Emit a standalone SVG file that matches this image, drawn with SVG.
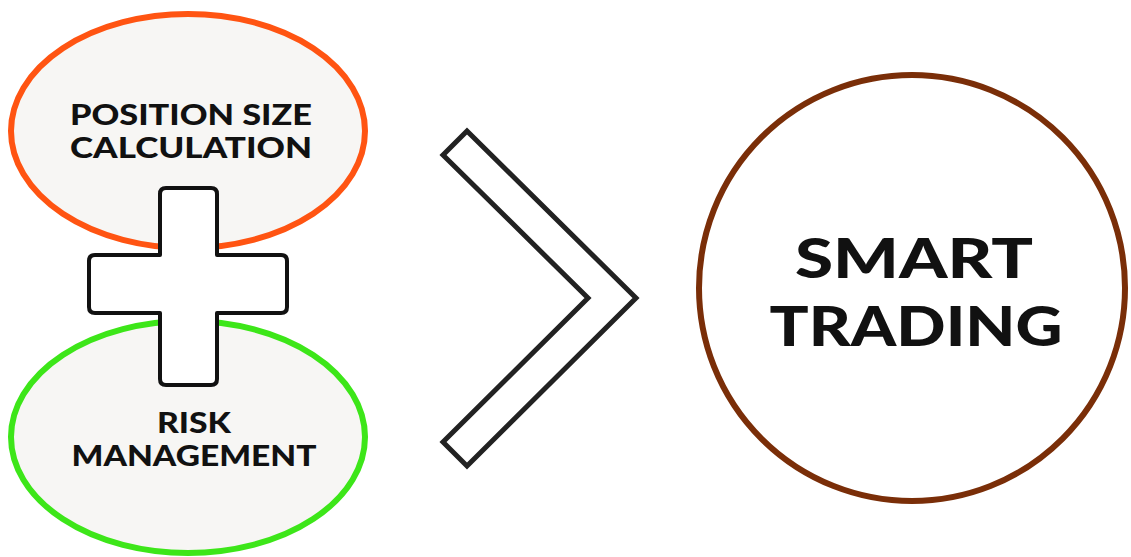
<svg xmlns="http://www.w3.org/2000/svg" width="1131" height="557" viewBox="0 0 1131 557">
<style>
.lbl{font-family:"Lato","Liberation Sans",sans-serif;font-weight:900;fill:#111;text-anchor:middle}
.small{font-size:27.5px}
.big{font-size:56px}
.oval{fill:#f7f6f4;stroke-width:6}
</style>
<rect width="1131" height="557" fill="#ffffff"/>
<g id="position-size">
<ellipse class="oval" cx="188" cy="131" rx="177" ry="117" stroke="#ff5412"/>
<text class="lbl small" x="191" y="125" textLength="242" lengthAdjust="spacingAndGlyphs">POSITION SIZE</text>
<text class="lbl small" x="191" y="158" textLength="242" lengthAdjust="spacingAndGlyphs">CALCULATION</text>
</g>
<g id="risk-management">
<ellipse class="oval" cx="188" cy="437" rx="177" ry="116" stroke="#3de619"/>
<text class="lbl small" x="194" y="433" textLength="74" lengthAdjust="spacingAndGlyphs">RISK</text>
<text class="lbl small" x="194" y="466" textLength="245" lengthAdjust="spacingAndGlyphs">MANAGEMENT</text>
</g>
<g id="plus">
<path d="M166,188 H211 Q217,188 217,194 V255 H281 Q287,255 287,261 V307 Q287,313 281,313 H217 V379 Q217,385 211,385 H166 Q160,385 160,379 V313 H95 Q89,313 89,307 V261 Q89,255 95,255 H160 V194 Q160,188 166,188 Z" fill="#ffffff" stroke="#111" stroke-width="4" stroke-linejoin="round"/>
</g>
<g id="connectors">
<polygon points="467,131 636,298 467,466 443,442 588,298 443,155" fill="#ffffff" stroke="#222" stroke-width="5" stroke-linejoin="miter"/>
</g>
<g id="smart-trading">
<circle cx="912" cy="288" r="213" fill="#ffffff" stroke="#7a2e08" stroke-width="6"/>
<text class="lbl big" x="914" y="278" textLength="238" lengthAdjust="spacingAndGlyphs">SMART</text>
<text class="lbl big" x="916" y="346" textLength="293" lengthAdjust="spacingAndGlyphs">TRADING</text>
</g>
</svg>
